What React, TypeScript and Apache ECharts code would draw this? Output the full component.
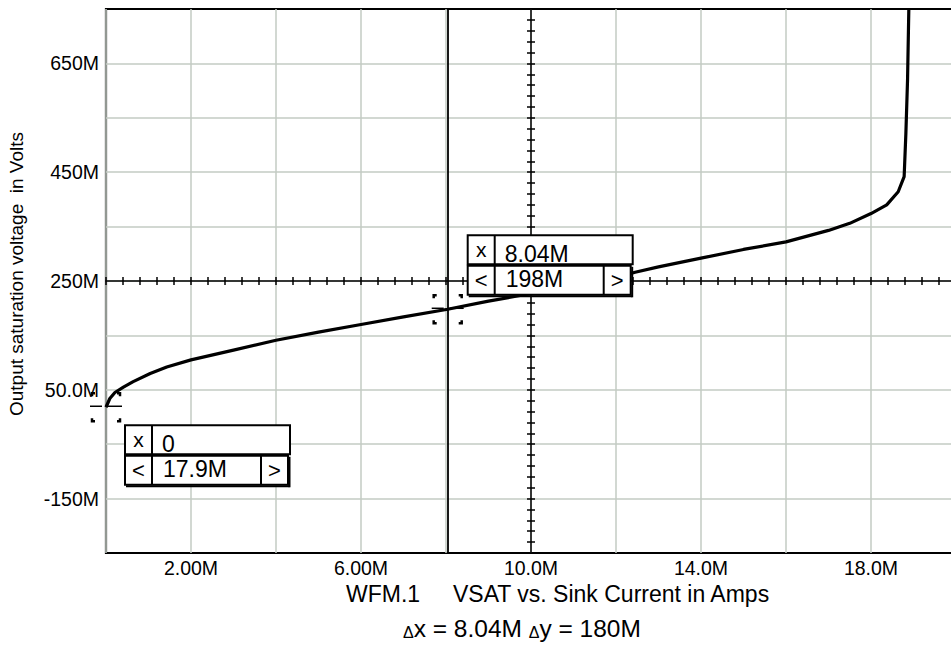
import React, { useEffect, useRef } from "react";
import * as echarts from "echarts";

// ---- data (sink current in mA "M", output saturation voltage in mV "M") ----
const currentM = [0, 0.09, 0.21, 0.41, 0.64, 1.04, 1.43, 2.0, 3.0, 4.0, 5.0, 6.0, 7.0, 8.04, 9.0, 10.0, 11.0, 12.0, 12.45, 13.0, 14.0, 15.0, 16.0, 17.0, 17.5, 18.0, 18.37, 18.64, 18.78, 18.82, 18.86, 18.89];
const vsatM = [17.9, 34, 45, 55, 65, 80, 92, 105, 123, 141, 156, 170, 184, 198, 213, 227, 242, 256, 266, 276, 292, 308, 322, 343, 356, 374, 390, 414, 442, 520, 620, 750];

const xGridValues = [0, 2, 4, 6, 8, 10, 12, 14, 16, 18, 20];
const xLabelValues = [2, 6, 10, 14, 18];
const yGridValues = [-150, -50, 50, 150, 250, 350, 450, 550, 650];
const yLabelValues = [-150, 50, 250, 450, 650];
const X_MIN = 0, X_MAX = 20, Y_MIN = -250, Y_MAX = 750;

const crossX = 10;
const crossY = 250;
const crossXStep = 0.4;
const crossYStep = 20;

const cursorX = [0, 8.04];
const cursorY = [17.9, 198];

const titleLeft = "WFM.1";
const titleRight = "VSAT vs. Sink Current in Amps";
const yTitle = "Output saturation voltage  in Volts";

// ---- style / layout ----
const FONT = "'Liberation Sans', Arial, Helvetica, sans-serif";
const GRID = { left: 106, top: 9, width: 850, height: 544 };
const GRID_COLOR = "#c3cbc3";

const fmt = (v: number) => (v === 0 ? "0" : Number(v).toPrecision(3)) + "M";
const fmtBox = (v: number) => (v === 0 ? "0" : Number(v).toPrecision(3) + "M");

function stepsBetween(min: number, max: number, step: number) {
  const out: number[] = [];
  const n = Math.round((max - min) / step);
  for (let i = 0; i <= n; i++) out.push(Math.round((min + i * step) * 1000) / 1000);
  return out;
}

export default function App() {
  const ref = useRef<HTMLDivElement>(null);
  useEffect(() => {
    if (!ref.current) return;
    const chart = echarts.init(ref.current, undefined, { renderer: "svg" });
    const crossXOffset = -GRID.height * (crossY - Y_MIN) / (Y_MAX - Y_MIN);
    const crossYOffset = -GRID.width * (crossX - X_MIN) / (X_MAX - X_MIN);
    const crossXTicks = stepsBetween(X_MIN, X_MAX, crossXStep);
    const crossYTicks = stepsBetween(Y_MIN, Y_MAX, crossYStep);
    const black = { color: "#000", width: 1.5 };

    const option: any = {
      animation: false,
      backgroundColor: "#fff",
      grid: { ...GRID, show: true, borderColor: "#000", borderWidth: 2.2, backgroundColor: "transparent", containLabel: false },
      xAxis: [
        {
          type: "value", min: X_MIN, max: X_MAX, interval: 2, position: "bottom",
          axisLine: { show: false, onZero: false },
          axisTick: { show: false, customValues: xGridValues },
          splitLine: { show: true, lineStyle: { color: GRID_COLOR, width: 1.5 } },
          axisLabel: { customValues: xLabelValues, formatter: fmt, fontSize: 19.5, color: "#000", fontFamily: FONT, margin: 5 },
        },
        {
          type: "value", min: X_MIN, max: X_MAX, position: "bottom", offset: crossXOffset,
          axisLine: { show: true, onZero: false, lineStyle: black },
          axisTick: { show: true, inside: false, length: 4, customValues: crossXTicks, lineStyle: black },
          axisLabel: { show: false }, splitLine: { show: false },
        },
        {
          type: "value", min: X_MIN, max: X_MAX, position: "bottom", offset: crossXOffset,
          axisLine: { show: false, onZero: false },
          axisTick: { show: true, inside: true, length: 4, customValues: crossXTicks, lineStyle: black },
          axisLabel: { show: false }, splitLine: { show: false },
        },
      ],
      yAxis: [
        {
          type: "value", min: Y_MIN, max: Y_MAX, position: "left",
          axisLine: { show: false, onZero: false },
          axisTick: { show: false, customValues: yGridValues },
          splitLine: { show: true, lineStyle: { color: GRID_COLOR, width: 1.5 } },
          axisLabel: { customValues: yLabelValues, formatter: fmt, fontSize: 19.5, color: "#000", fontFamily: FONT, margin: 7 },
        },
        {
          type: "value", min: Y_MIN, max: Y_MAX, position: "left", offset: crossYOffset,
          axisLine: { show: true, onZero: false, lineStyle: black },
          axisTick: { show: true, inside: false, length: 4, customValues: crossYTicks, lineStyle: black },
          axisLabel: { show: false }, splitLine: { show: false },
        },
        {
          type: "value", min: Y_MIN, max: Y_MAX, position: "left", offset: crossYOffset,
          axisLine: { show: false, onZero: false },
          axisTick: { show: true, inside: true, length: 4, customValues: crossYTicks, lineStyle: black },
          axisLabel: { show: false }, splitLine: { show: false },
        },
      ],
      series: [
        {
          type: "line", xAxisIndex: 0, yAxisIndex: 0,
          data: currentM.map((x, i) => [x, vsatM[i]]),
          showSymbol: false, symbol: "none", smooth: false, z: 5,
          lineStyle: { color: "#000", width: 3.2 },
          markLine: {
            silent: true, symbol: ["none", "none"], label: { show: false },
            lineStyle: { color: "#000", width: 1.8, type: "solid" },
            data: [{ xAxis: cursorX[1] }],
          },
        },
      ],
    };
    chart.setOption(option);

    const g: any[] = [];
    const txt = (x: number, y: number, text: string, size: number, align = "left", extra: any = {}) => ({
      type: "text", x, y, z: 110, ...extra,
      style: { text, fontSize: size, fontFamily: FONT, fill: "#000", align, verticalAlign: "middle" },
    });
    const rect = (x: number, y: number, w: number, h: number) => ({
      type: "rect", z: 100, shape: { x, y, width: w, height: h }, style: { fill: "#fff", stroke: "#000", lineWidth: 2 },
    });
    const line = (x1: number, y1: number, x2: number, y2: number, w = 2) => ({
      type: "line", z: 105, shape: { x1, y1, x2, y2 }, style: { stroke: "#000", lineWidth: w },
    });

    const marker = (px: number, py: number) => {
      const d = 14, a = 3;
      g.push(line(px - 16, py - 1, px - 4, py - 1, 1.5));
      g.push(line(px + 2, py - 1, px + 16, py - 1, 1.5));
      for (const sx of [-1, 1]) for (const sy of [-1, 1]) {
        const cx = px + sx * d, cy = py + sy * d;
        g.push({ type: "polyline", z: 105, shape: { points: [[cx, cy - sy * a], [cx, cy], [cx - sx * a, cy]] }, style: { stroke: "#000", lineWidth: 2.5, fill: "none" } });
      }
    };

    const box = (px: number, py: number, dx: number, dy: number, xv: number, yv: number) => {
      const x0 = px + dx, y0 = py + dy;
      const W1 = 165, W2 = 163, H = 29, GAP = 1.5, C = 27;
      const y1 = y0 + H + GAP;
      g.push(rect(x0, y0, W1, H));
      g.push(line(x0 + C, y0, x0 + C, y0 + H));
      g.push(rect(x0, y1, W2, H));
      g.push(line(x0 + C, y1, x0 + C, y1 + H));
      g.push(line(x0 + W2 - C, y1, x0 + W2 - C, y1 + H));
      g.push(line(x0 + 1, y1 + H + 1.5, x0 + W2 + 1.5, y1 + H + 1.5, 2));
      g.push(line(x0 + W2 + 1.5, y1 + 1, x0 + W2 + 1.5, y1 + H + 2.5, 2));
      g.push(txt(x0 + C / 2, y0 + H / 2, "x", 21, "center"));
      g.push(txt(x0 + C + 10, y0 + H / 2 + 4, fmtBox(xv), 23));
      g.push(txt(x0 + C / 2, y1 + H / 2, "<", 22, "center"));
      g.push(txt(x0 + C + 11, y1 + H / 2 - 1, fmtBox(yv), 23));
      g.push(txt(x0 + W2 - C / 2, y1 + H / 2, ">", 22, "center"));
    };

    const p1 = chart.convertToPixel({ xAxisIndex: 0, yAxisIndex: 0 }, [cursorX[0], cursorY[0]]) as number[];
    const p2 = chart.convertToPixel({ xAxisIndex: 0, yAxisIndex: 0 }, [cursorX[1], cursorY[1]]) as number[];
    marker(p1[0], p1[1]);
    marker(p2[0], p2[1]);
    box(p1[0], p1[1], 19, 18, cursorX[0], cursorY[0]);
    box(p2[0], p2[1], 20, -74, cursorX[1], cursorY[1]);

    g.push(txt(16, 274, yTitle, 19, "center", { rotation: Math.PI / 2 }));
    g.push(txt(346, 594, titleLeft, 23));
    g.push(txt(453, 594, titleRight, 23));
    const dx = cursorX[1] - cursorX[0];
    const dy = cursorY[1] - cursorY[0];
    g.push({
      type: "text", x: 403, y: 628, z: 110,
      style: {
        text: "{d|Δ}x = " + fmt(dx) + " {d|Δ}y = " + fmt(dy),
        fontSize: 24.5, fontFamily: FONT, fill: "#000", align: "left", verticalAlign: "middle",
        rich: { d: { fontSize: 16, fontFamily: FONT, fill: "#000", padding: [9, 0, 0, 0] } },
      },
    });
    chart.setOption({ graphic: g });

    return () => chart.dispose();
  }, []);

  return (
    <div style={{ position: "fixed", left: 0, top: 0, width: 951, height: 645, overflow: "hidden", background: "#fff" }}>
      <div ref={ref} style={{ width: 970, height: 645 }} />
    </div>
  );
}
